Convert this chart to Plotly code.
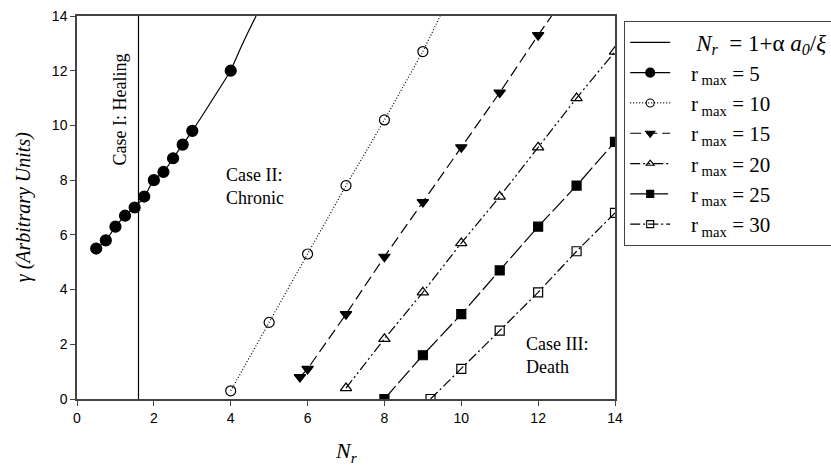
import plotly.graph_objects as go

# ---- data ----
x5 = [0.5, 0.75, 1.0, 1.25, 1.5, 1.75, 2.0, 2.25, 2.5, 2.75, 3.0, 4.0]
y5 = [5.5, 5.8, 6.3, 6.7, 7.0, 7.4, 8.0, 8.3, 8.8, 9.3, 9.8, 12.0]
x5_ext = [4.0, 4.33, 4.66]
y5_ext = [12.0, 13.05, 14.0]

x10 = [4, 5, 6, 7, 8, 9]
y10 = [0.3, 2.8, 5.3, 7.8, 10.2, 12.7]
x10_ext = [9, 9.45]
y10_ext = [12.7, 14.0]

x15 = [5.8, 6, 7, 8, 9, 10, 11, 12]
y15 = [0.8, 1.1, 3.1, 5.2, 7.2, 9.2, 11.2, 13.3]
x15_ext = [12, 12.35]
y15_ext = [13.3, 14.0]

x20 = [7, 8, 9, 10, 11, 12, 13, 14]
y20 = [0.4, 2.2, 3.9, 5.7, 7.4, 9.2, 11.0, 12.7]

x25 = [8, 9, 10, 11, 12, 13, 14]
y25 = [0.0, 1.6, 3.1, 4.7, 6.3, 7.8, 9.4]

x30 = [9.2, 10, 11, 12, 13, 14]
y30 = [0.0, 1.1, 2.5, 3.9, 5.4, 6.8]

nr_boundary = 1.6

xticks = [0, 2, 4, 6, 8, 10, 12, 14]
yticks = [0, 2, 4, 6, 8, 10, 12, 14]

SERIF = "Liberation Serif, Times New Roman, serif"
SANS = "Liberation Sans, Arial, sans-serif"

fig = go.Figure()

# vertical boundary line (legend entry)
fig.add_trace(go.Scatter(
    x=[nr_boundary, nr_boundary], y=[0, 14], mode="lines",
    line=dict(color="black", width=1.2),
    name="    <span style='font-size:23px'><i>N<sub>r</sub></i>  = 1+α <i>a<sub>0</sub></i>/<i>ξ</i></span>"))

def add_series(x, y, name, symbol, dash, size, lsize, xe=None, ye=None, shape="linear"):
    fig.add_trace(go.Scatter(
        x=x, y=y, mode="lines+markers", showlegend=False,
        line=dict(color="black", width=1.2, dash=dash, shape=shape),
        marker=dict(symbol=symbol, size=size, color="black",
                    line=dict(color="black", width=1.2))))
    if xe is not None:
        fig.add_trace(go.Scatter(
            x=xe, y=ye, mode="lines", showlegend=False,
            line=dict(color="black", width=1.2, dash=dash, shape="spline")))
    # legend-only entry with small marker, like the reference key
    fig.add_trace(go.Scatter(
        x=[None], y=[None], mode="lines+markers", name=name,
        line=dict(color="black", width=1.2, dash=dash),
        marker=dict(symbol=symbol, size=lsize, color="black",
                    line=dict(color="black", width=1.1))))

add_series(x5, y5, "&nbsp;&nbsp;&nbsp;r<sub> max</sub> = 5", "circle", "solid", 11, 9, x5_ext, y5_ext, shape="spline")
add_series(x10, y10, "   r<sub> max</sub> = 10", "circle-open", "1px,2px", 10, 8, x10_ext, y10_ext)
add_series(x15, y15, "   r<sub> max</sub> = 15", "triangle-down", "11px,5px", 10, 8, x15_ext, y15_ext)
add_series(x20, y20, "   r<sub> max</sub> = 20", "triangle-up-open", "10px,3px,2px,3px,2px,3px", 10, 7)
add_series(x25, y25, "   r<sub> max</sub> = 25", "square", "17px,4px", 9, 7)
add_series(x30, y30, "   r<sub> max</sub> = 30", "square-open", "10px,3px,2px,3px", 9, 7)

annot_font = dict(family=SERIF, size=18, color="black")
fig.add_annotation(x=1.13, y=10.6, text="Case I: Healing", textangle=-90,
                   showarrow=False, font=annot_font)
fig.add_annotation(x=3.83, y=7.75, text="Case II:<br>Chronic", xanchor="left",
                   align="left", showarrow=False, font=annot_font)
fig.add_annotation(x=11.63, y=1.6, text="Case III:<br>Death", xanchor="left",
                   align="left", showarrow=False, font=annot_font)

# axis titles as annotations for exact placement
fig.add_annotation(xref="paper", yref="paper", x=0.5, y=-0.138,
                   text="<i>N<sub>r</sub></i>", showarrow=False,
                   xanchor="center", yanchor="middle",
                   font=dict(family=SERIF, size=22, color="black"))
fig.add_annotation(xref="paper", yref="paper", x=-0.099, y=0.5,
                   text="<i>γ (Arbitrary Units)</i>", showarrow=False,
                   textangle=-90, xanchor="center", yanchor="middle",
                   font=dict(family=SERIF, size=20, color="black"))

axis_common = dict(
    showgrid=False, zeroline=False, showline=True, linecolor="#444",
    linewidth=1.5, mirror=True, ticks="outside", ticklen=5, tickwidth=1.2,
    tickcolor="#444", tickfont=dict(family=SANS, size=14, color="black"),
    automargin=False)

fig.update_xaxes(range=[0, 14], tickvals=xticks, **axis_common)
fig.update_yaxes(range=[0, 14], tickvals=yticks, **axis_common)

fig.update_layout(
    width=831, height=468,
    margin=dict(l=77, r=216, t=16, b=69, autoexpand=False),
    plot_bgcolor="white", paper_bgcolor="white",
    legend=dict(xref="container", yref="container",
                x=624 / 831, y=1 - 21 / 468, xanchor="left", yanchor="top",
                bordercolor="#444", borderwidth=1.2,
                font=dict(family=SERIF, size=21, color="black"),
                itemwidth=40, tracegroupgap=0),
)

fig.write_html("out.html")
